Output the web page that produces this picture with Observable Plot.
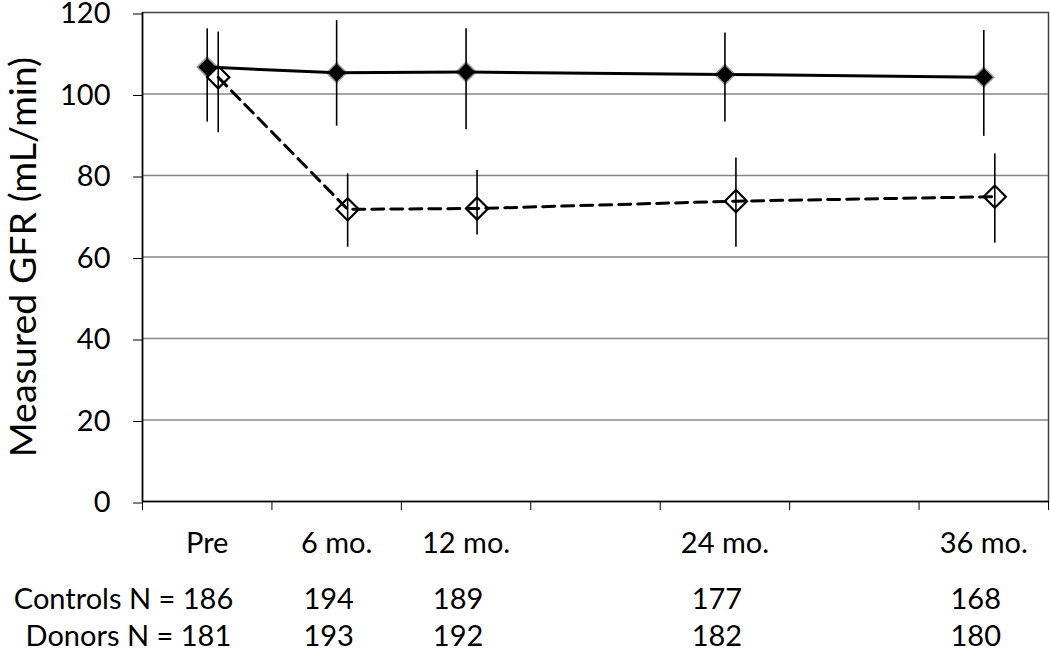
<!DOCTYPE html>
<html>
<head>
<meta charset="utf-8">
<script src="https://cdn.jsdelivr.net/npm/d3@7"></script>
<script src="https://cdn.jsdelivr.net/npm/@observablehq/plot@0.6"></script>
<style>
  html, body { margin: 0; padding: 0; background: white; }
  svg { display: block; }
</style>
</head>
<body>
<div id="chart"></div>
<script>
// ---- data ----
const months = [0, 6, 12, 24, 36];
const monthLabels = ["Pre", "6 mo.", "12 mo.", "24 mo.", "36 mo."];
const slotBoundaries = [-3, 3, 9, 15, 21, 27, 33, 39];
const yTicks = [0, 20, 40, 60, 80, 100, 120];

const controlsMean = [106.6, 105.2, 105.4, 104.8, 104.1];
const controlsLow  = [93.1, 92.1, 91.2, 93.1, 89.6];
const controlsHigh = [116.0, 118.0, 116.0, 115.0, 115.6];

const donorsMean = [104.1, 71.7, 71.9, 73.7, 74.8];
const donorsLow  = [90.5, 62.4, 65.4, 62.4, 63.4];
const donorsHigh = [115.2, 80.4, 81.2, 84.3, 85.3];

const controlsN = [186, 194, 189, 177, 168];
const donorsN   = [181, 193, 192, 182, 180];

// ---- tables built from the arrays ----
const controls = months.map((m, i) => ({month: m, mean: controlsMean[i], lo: controlsLow[i], hi: controlsHigh[i]}));
const donors = months.map((m, i) => ({month: m, mean: donorsMean[i], lo: donorsLow[i], hi: donorsHigh[i]}));
const nRows = months.map((m, i) => ({month: m, controls: controlsN[i], donors: donorsN[i]}));

const FONT = "Lato, 'Open Sans', sans-serif";
const FS = 29;
const donorShift = 11;

const chart = Plot.plot({
  width: 1050,
  height: 652,
  marginTop: 12,
  marginLeft: 142,
  marginRight: 2,
  marginBottom: 151,
  style: {fontFamily: FONT, fontSize: FS + "px", color: "black", background: "white"},
  x: {type: "linear", domain: [-3, 39]},
  y: {domain: [0, 120]},
  marks: [
    Plot.gridY(yTicks.filter(v => v > 0 && v < 120), {stroke: "#868686", strokeOpacity: 1, strokeWidth: 1.5}),
    Plot.frame({stroke: "#404040", strokeWidth: 1.5}),
    Plot.axisY({ticks: yTicks, tickSize: 9, tickPadding: 23, label: null, fontSize: FS, stroke: "black", dy: 1.5}),
    Plot.axisX({ticks: slotBoundaries, tickFormat: () => "", tickSize: 9, label: null, stroke: "black"}),
    Plot.axisX({ticks: months, tickFormat: d => monthLabels[months.indexOf(d)], tickSize: 0, tickPadding: 31, label: null, fontSize: FS}),
    Plot.ruleY([0], {stroke: "black", strokeWidth: 1.5}),
    Plot.ruleX([-3], {stroke: "black", strokeWidth: 1.5}),
    // markers
    Plot.dot(controls, {x: "month", y: "mean", symbol: "diamond2", r: 9, fill: "black", stroke: "#9a9a9a", strokeWidth: 1.5}),
    Plot.dot(donors, {x: "month", y: "mean", symbol: "diamond2", r: 10, fill: "white", stroke: "black", strokeWidth: 2.2, dx: donorShift}),
    // error bars
    Plot.ruleX(controls, {x: "month", y1: "lo", y2: "hi", stroke: "black", strokeWidth: 1.6}),
    Plot.ruleX(donors, {x: "month", y1: "lo", y2: "hi", stroke: "black", strokeWidth: 1.6, dx: donorShift}),
    // lines
    Plot.line(controls, {x: "month", y: "mean", stroke: "black", strokeWidth: 3}),
    Plot.line(donors, {x: "month", y: "mean", stroke: "black", strokeWidth: 3, strokeDasharray: "12,7", dx: donorShift}),
    // sample sizes below the axis
    Plot.text(nRows.slice(0, 1), {x: "month", text: d => `Controls N = ${d.controls}`, frameAnchor: "bottom", lineAnchor: "middle", textAnchor: "end", dx: 26, dy: 98, fontSize: FS, fill: "black"}),
    Plot.text(nRows.slice(0, 1), {x: "month", text: d => `Donors N = ${d.donors}`, frameAnchor: "bottom", lineAnchor: "middle", textAnchor: "end", dx: 24, dy: 135, fontSize: FS, fill: "black"}),
    Plot.text(nRows.slice(1), {x: "month", text: d => String(d.controls), frameAnchor: "bottom", lineAnchor: "middle", textAnchor: "middle", dx: -8, dy: 98, fontSize: FS, fill: "black"}),
    Plot.text(nRows.slice(1), {x: "month", text: d => String(d.donors), frameAnchor: "bottom", lineAnchor: "middle", textAnchor: "middle", dx: -8, dy: 135, fontSize: FS, fill: "black"}),
    // y-axis title
    Plot.text(["Measured GFR (mL/min)"], {text: d => d, frameAnchor: "left", textAnchor: "middle", lineAnchor: "middle", rotate: -90, dx: -119, fontSize: 37.5, fill: "black"})
  ]
});
document.getElementById("chart").appendChild(chart);
</script>
</body>
</html>
